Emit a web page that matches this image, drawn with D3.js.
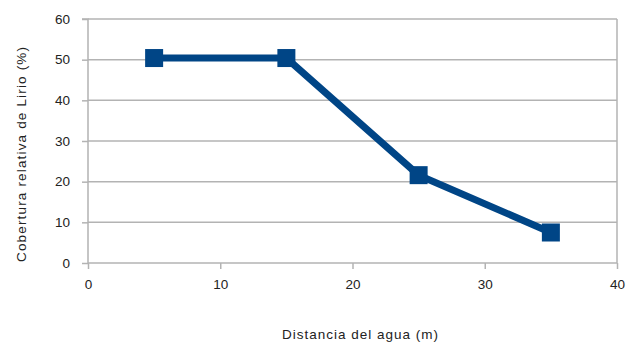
<!DOCTYPE html>
<html>
<head>
<meta charset="utf-8">
<script src="https://cdn.jsdelivr.net/npm/d3@7"></script>
<style>
  html, body { margin: 0; padding: 0; background: #fff; }
  svg { display: block; font-family: "Liberation Sans", Arial, sans-serif; }
</style>
</head>
<body>
<svg id="chart" width="628" height="346"></svg>
<script>
// Distance from the water (m) and relative water-hyacinth cover (%)
const distancias = [5, 15, 25, 35];
const cobertura = [50.4, 50.4, 21.6, 7.5];
const xTicks = [0, 10, 20, 30, 40];
const yTicks = [0, 10, 20, 30, 40, 50, 60];
const xTitle = "Distancia del agua (m)";
const yTitle = "Cobertura  relativa  de Lirio (%)";

const svg = d3.select("#chart");
const margin = { left: 88, right: 11, top: 19, bottom: 83 };
const W = 628, H = 346;
const x = d3.scaleLinear().domain([0, 40]).range([margin.left, W - margin.right]);
const y = d3.scaleLinear().domain([0, 60]).range([H - margin.bottom, margin.top]);

const gridColor = "#b3b3b3";
const textColor = "#222";

// horizontal gridlines
svg.append("g")
  .selectAll("line")
  .data(yTicks.filter(d => d > 0))
  .join("line")
  .attr("x1", x(0)).attr("x2", x(40))
  .attr("y1", d => y(d)).attr("y2", d => y(d))
  .attr("stroke", gridColor).attr("stroke-width", 1.5);

// right border
svg.append("line")
  .attr("x1", x(40)).attr("x2", x(40))
  .attr("y1", y(60)).attr("y2", y(0))
  .attr("stroke", gridColor).attr("stroke-width", 1.5);

// y axis
const yAxis = svg.append("g")
  .attr("transform", `translate(${x(0)},0)`)
  .call(d3.axisLeft(y).tickValues(yTicks).tickSize(6).tickPadding(12).tickFormat(d3.format("d")));
// x axis
const xAxis = svg.append("g")
  .attr("transform", `translate(0,${y(0)})`)
  .call(d3.axisBottom(x).tickValues(xTicks).tickSize(6).tickPadding(10).tickFormat(d3.format("d")));

[yAxis, xAxis].forEach(g => {
  g.select(".domain").attr("stroke", gridColor).attr("stroke-width", 1.5);
  g.selectAll(".tick line").attr("stroke", gridColor).attr("stroke-width", 1.5);
  g.selectAll(".tick text")
    .attr("fill", textColor)
    .style("font-size", "13.5px")
    .style("font-family", "'Liberation Sans', Arial, sans-serif");
});
yAxis.select(".domain").attr("d", `M-6,${y(60)}H0V${y(0)}`);
xAxis.select(".domain").attr("d", `M${x(0)},0H${x(40)}`);

// series line
const line = d3.line().x((d, i) => x(distancias[i])).y(d => y(d));
svg.append("path")
  .datum(cobertura)
  .attr("d", line)
  .attr("fill", "none")
  .attr("stroke", "#004586")
  .attr("stroke-width", 7)
  .attr("stroke-linejoin", "miter");

// square markers
const ms = 18;
svg.append("g")
  .selectAll("rect")
  .data(cobertura)
  .join("rect")
  .attr("x", (d, i) => x(distancias[i]) - ms / 2)
  .attr("y", d => y(d) - ms / 2)
  .attr("width", ms).attr("height", ms)
  .attr("fill", "#004586");

// axis titles
svg.append("text")
  .attr("x", 360).attr("y", 338.5)
  .attr("text-anchor", "middle")
  .attr("fill", textColor)
  .attr("textLength", 156)
  .attr("lengthAdjust", "spacing")
  .style("font-size", "13.5px")
  .text(xTitle);

svg.append("text")
  .attr("transform", "translate(26,154.5) rotate(-90)")
  .attr("text-anchor", "middle")
  .attr("fill", textColor)
  .attr("textLength", 215)
  .attr("lengthAdjust", "spacing")
  .style("font-size", "13.5px")
  .text(yTitle);
</script>
</body>
</html>
